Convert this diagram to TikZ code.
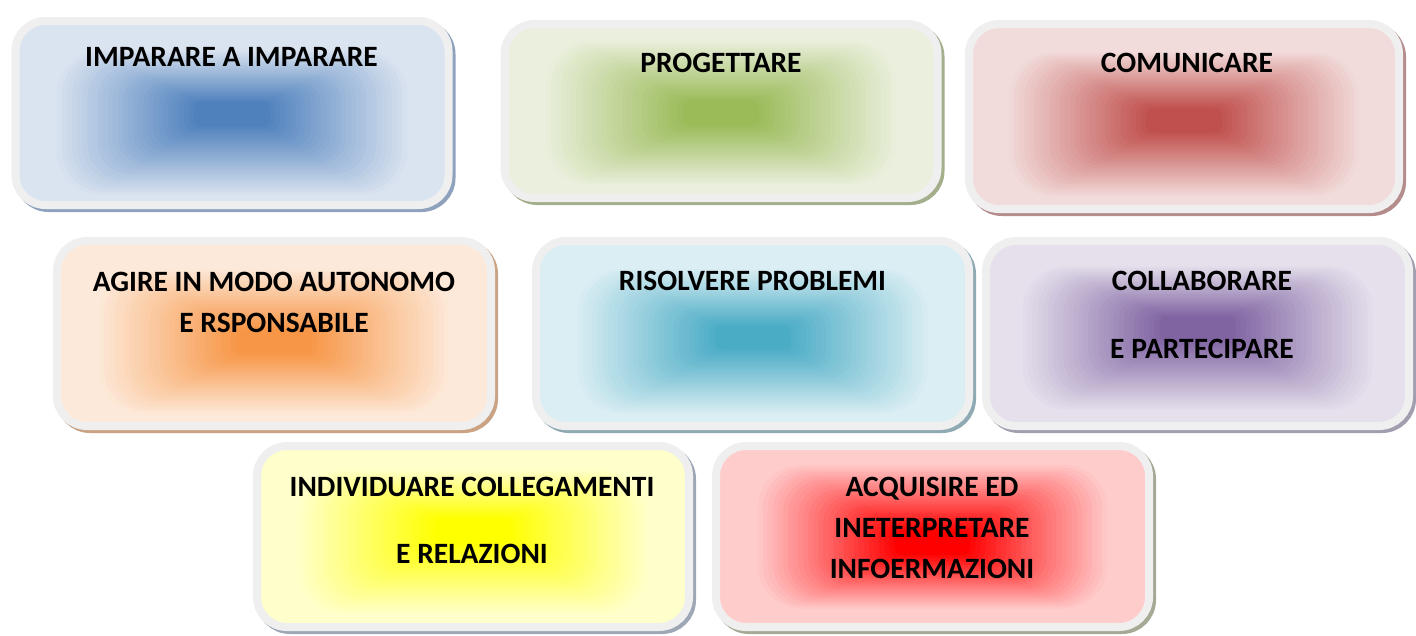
\documentclass[tikz,border=0pt]{standalone}
\usepackage{fontspec}
\setmainfont{Carlito}

\definecolor{framegray}{HTML}{EFEFEF}
% centre / edge / shadow colours of the boxes
\definecolor{impIn}{HTML}{4F81BD}   \definecolor{impOut}{HTML}{DAE3F0}   \definecolor{impSh}{HTML}{8EA2BE}
\definecolor{progIn}{HTML}{9BBB59}  \definecolor{progOut}{HTML}{EAF0DD}  \definecolor{progSh}{HTML}{A3AE8A}
\definecolor{comIn}{HTML}{C0504D}   \definecolor{comOut}{HTML}{F2DCDB}   \definecolor{comSh}{HTML}{B38C8B}
\definecolor{agireIn}{HTML}{F79646} \definecolor{agireOut}{HTML}{FDE9D9} \definecolor{agireSh}{HTML}{C9A384}
\definecolor{risolIn}{HTML}{4BACC6} \definecolor{risolOut}{HTML}{DAEEF3} \definecolor{risolSh}{HTML}{8FAAB3}
\definecolor{collIn}{HTML}{8064A2}  \definecolor{collOut}{HTML}{E5E0EC}  \definecolor{collSh}{HTML}{A39DB0}
\definecolor{indivIn}{HTML}{FFFF00} \definecolor{indivOut}{HTML}{FFFFCC} \definecolor{indivSh}{HTML}{9DA7B5}
\definecolor{acqIn}{HTML}{FF0000}   \definecolor{acqOut}{HTML}{FFCCCC}   \definecolor{acqSh}{HTML}{A4AA94}

\begin{document}
\begin{tikzpicture}[x=1pt,y=-1pt]

% size of each box
\def\bw{433}
\def\bh{184}
% styles
\tikzset{
  card/.style={
    rectangle, rounded corners=30pt, draw=framegray, line width=8pt,
    inner sep=0pt, minimum width=\bw pt, minimum height=\bh pt,
    fill=#1Out,
    preaction={draw=#1Sh, fill=#1Sh, line width=8pt,
      transform canvas={xshift=3pt,yshift=-3pt}}},
  words/.style={align=center, inner sep=0pt,
    font=\bfseries\fontsize{29.5}{41}\selectfont}
}
% blurred glow in the middle of a box: nested rectangles
% #2 = vertical offset of the outer band, #3 = of the core
\def\glow#1#2#3{
  \foreach \k in {0,...,28} {
    \pgfmathsetmacro\hw{180-\k*5.07}
    \pgfmathsetmacro\hh{74-\k*2.2}
    \pgfmathsetmacro\dy{#2+(#3-#2)*\k/28}
    \pgfmathtruncatemacro\p{100*\k/28}
    \fill[#1In!\p!#1Out, rounded corners=\hh*0.6pt]
      ([shift={(-\hw,-\hh+\dy)}]#1.center) rectangle ([shift={(\hw,\hh+\dy)}]#1.center);
  }
}

\useasboundingbox (0,0) rectangle (1416,635);

% first row
\node[card=imp] (imp) at (232,113) {};
\node[card=prog, minimum height=174pt] (prog) at (721,111) {};
\node[card=com, minimum width=430pt, minimum height=185pt] (com) at (1184,116.5) {};

% second row
\node[card=agire, minimum width=434pt, minimum height=185pt] (agire) at (274,333.5) {};
\node[card=risol, minimum height=185pt] (risol) at (752.5,333.5) {};
\node[card=coll, minimum width=423pt, minimum height=185pt] (coll) at (1197.5,333.5) {};

% third row
\node[card=indiv, minimum width=432pt, minimum height=181pt] (indiv) at (473,536.5) {};
\node[card=acq, minimum height=181pt] (acq) at (932.5,536.5) {};

% glows
\glow{imp}{10}{1}
\glow{prog}{2}{2}
\glow{com}{8}{4}
\glow{agire}{8}{8}
\glow{risol}{8}{4}
\glow{coll}{5}{-5}
\glow{indiv}{6}{-6}
\glow{acq}{0}{6}

% texts
\node[words] (imp-t) at (231.5,57) {IMPARARE A IMPARARE};
\node[words] (prog-t) at (721,63) {PROGETTARE};
\node[words] (com-t) at (1187,63) {COMUNICARE};
\node[words] (agire-t) at (274,302) {AGIRE IN MODO AUTONOMO\\E RSPONSABILE};
\node[words] (risol-t) at (752.5,281) {RISOLVERE PROBLEMI};
\node[words] (coll-t) at (1202,315) {COLLABORARE\\[27pt]E PARTECIPARE};
\node[words] (indiv-t) at (472,520) {INDIVIDUARE COLLEGAMENTI\\[26pt]E RELAZIONI};
\node[words] (acq-t) at (932,528) {ACQUISIRE ED\\INETERPRETARE\\INFOERMAZIONI};

\end{tikzpicture}
\end{document}
